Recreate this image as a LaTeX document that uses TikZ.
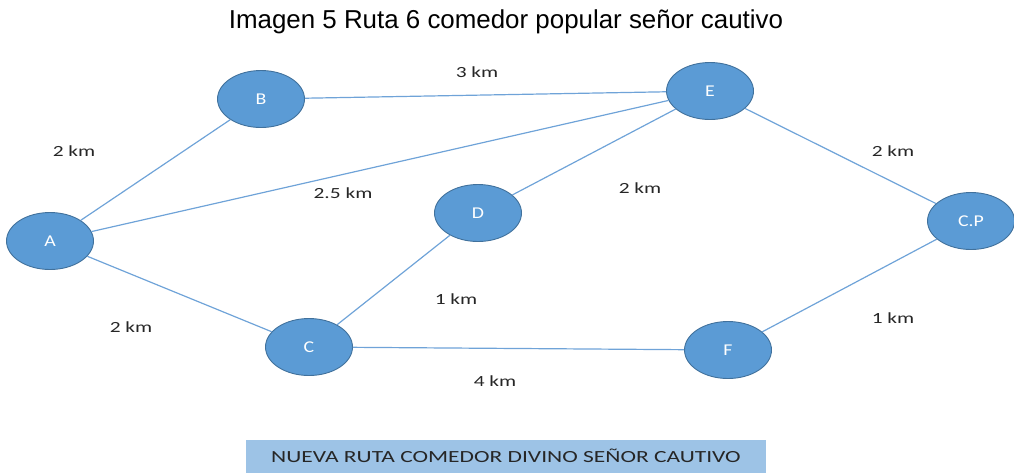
\documentclass[tikz,border=0pt]{standalone}
\usepackage{fontspec}
\setmainfont{Carlito}
\newfontfamily\arialf{Liberation Sans}
\usetikzlibrary{shapes.geometric}
\definecolor{nodefill}{HTML}{5B9BD5}
\definecolor{nodeline}{HTML}{41719C}
\definecolor{edgecol}{HTML}{6FA3D8}
\definecolor{boxfill}{HTML}{9DC3E6}
\definecolor{txtgray}{HTML}{262626}
\newcommand{\kmlbl}[1]{\scalebox{1.38}[1]{\fontsize{15.5}{16}\selectfont #1}}
\newcommand{\ndlbl}[1]{\scalebox{1.2}[1]{\fontsize{16.5}{17}\selectfont #1}}
\tikzset{
  place/.style={ellipse, fill=nodefill, draw=nodeline, line width=0.9pt,
    minimum width=87pt, minimum height=57pt, inner sep=0pt, text=white},
  route/.style={draw=edgecol, line width=1.2pt},
  dist/.style={text=txtgray, inner sep=0pt}
}
\begin{document}
\begin{tikzpicture}[x=1pt,y=-1pt]
\useasboundingbox (0,0) rectangle (1014,474);
\node[inner sep=0pt] (title) at (506,22) {\arialf\fontsize{25.9}{27}\selectfont Imagen 5 Ruta 6 comedor popular señor cautivo};
\node[place] (A) at (50,241) {\ndlbl{A}};
\node[place] (B) at (261,99) {\ndlbl{B}};
\node[place] (E) at (710,91) {\ndlbl{E}};
\node[place] (D) at (478,213) {\ndlbl{D}};
\node[place] (CP) at (971,221) {\ndlbl{C.P}};
\node[place] (C) at (309,347) {\ndlbl{C}};
\node[place] (F) at (728,350) {\ndlbl{F}};
\draw[route] (A) -- (B);
\draw[route] (A) -- (E);
\draw[route] (A) -- (C);
\draw[route] (B) -- (E);
\draw[route] (E) -- (D);
\draw[route] (E) -- (CP);
\draw[route] (D) -- (C);
\draw[route] (C) -- (F);
\draw[route] (F) -- (CP);
\node[dist] (l1) at (477,72) {\kmlbl{3 km}};
\node[dist] (l2) at (74,151) {\kmlbl{2 km}};
\node[dist] (l3) at (343,193) {\kmlbl{2.5 km}};
\node[dist] (l4) at (640,188) {\kmlbl{2 km}};
\node[dist] (l5) at (893,151) {\kmlbl{2 km}};
\node[dist] (l6) at (456,299) {\kmlbl{1 km}};
\node[dist] (l7) at (131,327) {\kmlbl{2 km}};
\node[dist] (l8) at (495,381) {\kmlbl{4 km}};
\node[dist] (l9) at (893,318) {\kmlbl{1 km}};
\node[fill=boxfill, minimum width=520pt, minimum height=33pt, inner sep=0pt, text=txtgray] (box) at (506,456) {\scalebox{1.38}[1]{\fontsize{17}{18}\selectfont NUEVA RUTA COMEDOR DIVINO SEÑOR CAUTIVO}};
\end{tikzpicture}
\end{document}
